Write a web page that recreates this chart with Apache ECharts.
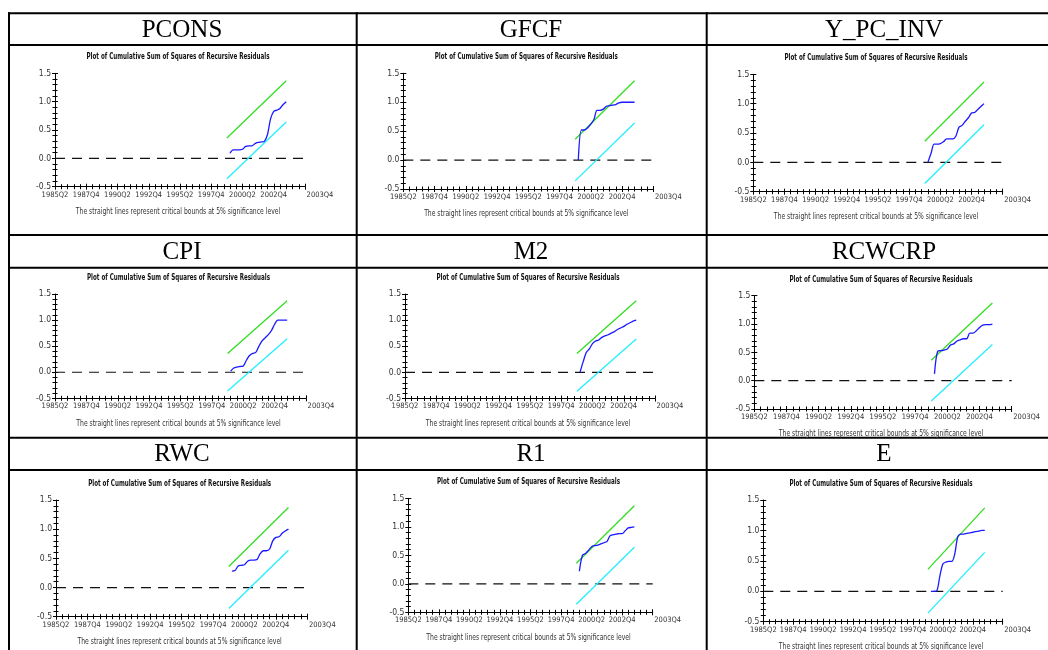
<!DOCTYPE html>
<html>
<head>
<meta charset="utf-8">
<title>CUSUMSQ plots</title>
<script src="https://cdn.jsdelivr.net/npm/echarts@6/dist/echarts.min.js"></script>
<style>
  html, body { margin: 0; padding: 0; background: #fff; }
  #chart { width: 1048px; height: 650px; }
</style>
</head>
<body>
<div id="chart"></div>
<script>
// x axis counts quarters from 1985Q2 (= 0); ticks every 10 quarters
const xTickLabels = ['1985Q2', '1987Q4', '1990Q2', '1992Q4', '1995Q2', '1997Q4', '2000Q2', '2002Q4', '2003Q4'];
const yTickLabels = ['-0.5', '0.0', '0.5', '1.0', '1.5'];

// recursive residual sample: 1999Q2 .. 2003Q4
const residualQuarters = [56, 57, 58, 59, 60, 61, 62, 63, 64, 65, 66, 67, 68, 69, 70, 71, 72, 73, 74];
// 5% critical bounds (straight lines)
const boundQuarters = [55, 74];
const upperBound = [0.36, 1.37];
const lowerBound = [-0.36, 0.64];
const zeroQuarters = [0, 80];
const zeroLine = [0, 0];

// cumulative sum of squares of recursive residuals, per variable
const pcons = [0.09, 0.15, 0.15, 0.15, 0.16, 0.21, 0.22, 0.22, 0.26, 0.28, 0.29, 0.30, 0.42, 0.70, 0.83, 0.85, 0.88, 0.95, 1.00];
const gfcf = [0.00, 0.52, 0.52, 0.56, 0.62, 0.70, 0.86, 0.86, 0.88, 0.93, 0.94, 0.95, 0.96, 0.99, 1.00, 1.00, 1.00, 1.00, 1.00];
const yPcInv = [0.00, 0.15, 0.31, 0.31, 0.32, 0.35, 0.40, 0.40, 0.40, 0.45, 0.60, 0.63, 0.70, 0.76, 0.84, 0.85, 0.90, 0.95, 1.00];
const cpi = [0.02, 0.08, 0.10, 0.11, 0.12, 0.23, 0.32, 0.36, 0.38, 0.50, 0.60, 0.66, 0.72, 0.80, 0.92, 1.00, 1.00, 1.00, 1.00];
const m2 = [0.00, 0.20, 0.38, 0.45, 0.55, 0.60, 0.62, 0.67, 0.70, 0.72, 0.75, 0.78, 0.82, 0.85, 0.88, 0.92, 0.95, 0.98, 1.00];
const rcwcrp = [0.12, 0.52, 0.53, 0.54, 0.56, 0.63, 0.65, 0.70, 0.72, 0.74, 0.74, 0.84, 0.84, 0.88, 0.94, 0.98, 0.99, 0.99, 1.00];
const rwc = [0.28, 0.29, 0.37, 0.38, 0.39, 0.45, 0.47, 0.47, 0.48, 0.58, 0.63, 0.63, 0.66, 0.80, 0.86, 0.87, 0.93, 0.97, 1.00];
const r1 = [0.22, 0.50, 0.53, 0.59, 0.65, 0.67, 0.68, 0.70, 0.72, 0.74, 0.84, 0.86, 0.87, 0.88, 0.88, 0.93, 0.98, 0.99, 1.00];
const e = [0.00, 0.00, 0.01, 0.25, 0.45, 0.48, 0.49, 0.49, 0.62, 0.90, 0.94, 0.94, 0.95, 0.96, 0.97, 0.98, 0.99, 1.00, 1.00];

const panelNames = ['PCONS', 'GFCF', 'Y_PC_INV', 'CPI', 'M2', 'RCWCRP', 'RWC', 'R1', 'E'];
const panelValues = [pcons, gfcf, yPcInv, cpi, m2, rcwcrp, rwc, r1, e];

const chartTitle = 'Plot of Cumulative Sum of Squares of Recursive Residuals';
const footNote = 'The straight lines represent critical bounds at 5% significance level';

// plot area of each panel: left, top, width, height (px)
const gridBoxes = [
  [55, 73.3, 250, 113.4], [403.3, 73.3, 250, 115.7], [753.3, 74.3, 249.4, 117.4],
  [55, 294, 251, 104.3], [405, 294, 250, 104.5], [754.3, 295.7, 257.4, 113.3],
  [56, 500, 251.3, 116.7], [408.3, 498.3, 244.4, 114], [763.3, 500, 239.4, 121.7]
];
// table lines
const colLines = [9, 356.7, 706.7];
const rowLines = [13.3, 45, 235, 267.7, 437.7, 470];
const headerCenters = [182, 531, 884];
const headerRows = [[13.3, 45], [235, 267.7], [437.7, 470]];

const COND = "'DejaVu Sans Condensed', 'Liberation Sans Narrow', 'Liberation Sans', sans-serif";
const SERIF = "'Liberation Serif', 'Times New Roman', serif";

const myChart = echarts.init(document.getElementById('chart'));

const grids = [];
const xAxes = [];
const yAxes = [];
const series = [];
const graphics = [];

// table borders
colLines.forEach(x => {
  graphics.push({type: 'line', shape: {x1: x, y1: rowLines[0] - 1, x2: x, y2: 650}, style: {stroke: '#000', lineWidth: 2}, silent: true});
});
rowLines.forEach(y => {
  graphics.push({type: 'line', shape: {x1: colLines[0] - 1, y1: y, x2: 1048, y2: y}, style: {stroke: '#000', lineWidth: 2}, silent: true});
});

panelNames.forEach((name, i) => {
  const [l, t, w, h] = gridBoxes[i];
  const row = Math.floor(i / 3);
  const col = i % 3;
  const cx = l + w / 2 - 2;

  // column header
  graphics.push({
    type: 'text',
    x: headerCenters[col],
    y: (headerRows[row][0] + headerRows[row][1]) / 2 + 1,
    style: {text: name, x: 0, y: 0, align: 'center', verticalAlign: 'middle', font: '25px ' + SERIF, fill: '#000'},
    silent: true
  });
  // panel title and note, squeezed horizontally like the original
  graphics.push({
    type: 'text',
    x: cx, y: t - 16.5, scaleX: 0.69,
    style: {text: chartTitle, x: 0, y: 0, align: 'center', verticalAlign: 'middle', font: 'bold 9px ' + COND, fill: '#111'},
    silent: true
  });
  graphics.push({
    type: 'text',
    x: cx, y: t + h + 25, scaleX: 0.75,
    style: {text: footNote, x: 0, y: 0, align: 'center', verticalAlign: 'middle', font: '9px ' + COND, fill: '#333'},
    silent: true
  });

  grids.push({left: l, top: t, width: w, height: h});

  const tickStyle = {color: '#000', width: 1};
  // x axis with labels and outward ticks
  xAxes.push({
    gridIndex: i, type: 'value', position: 'bottom', min: 0, max: 80, interval: 10,
    axisLine: {onZero: false, lineStyle: tickStyle},
    axisTick: {length: 3, lineStyle: tickStyle},
    minorTick: {show: true, splitNumber: 5, length: 2.5, lineStyle: tickStyle},
    splitLine: {show: false},
    axisLabel: {
      margin: 4, color: '#333', fontSize: 7.5, fontFamily: COND,
      formatter: v => {
        const k = Math.round(v / 10);
        return k === 8 ? '{last|' + xTickLabels[k] + '}' : xTickLabels[k];
      },
      rich: {last: {padding: [0, 0, 0, 30], fontSize: 7.5, fontFamily: COND, color: '#333'}}
    }
  });
  // inward ticks so the marks cross the axis
  xAxes.push({
    gridIndex: i, type: 'value', position: 'bottom', min: 0, max: 80, interval: 10,
    axisLine: {show: false, onZero: false},
    axisTick: {inside: true, length: 3, lineStyle: tickStyle},
    minorTick: {show: true, splitNumber: 5, length: 2.5, lineStyle: tickStyle},
    splitLine: {show: false},
    axisLabel: {show: false}
  });
  yAxes.push({
    gridIndex: i, type: 'value', position: 'left', min: -0.5, max: 1.5, interval: 0.5,
    axisLine: {show: true, onZero: false, lineStyle: tickStyle},
    axisTick: {show: true, length: 3, lineStyle: tickStyle},
    minorTick: {show: true, splitNumber: 5, length: 2.5, lineStyle: tickStyle},
    splitLine: {show: false},
    axisLabel: {
      margin: 4, color: '#333', fontSize: 8.5, fontFamily: COND,
      formatter: v => yTickLabels[Math.round((v + 0.5) / 0.5)]
    }
  });
  yAxes.push({
    gridIndex: i, type: 'value', position: 'left', min: -0.5, max: 1.5, interval: 0.5,
    axisLine: {show: false, onZero: false},
    axisTick: {show: true, inside: true, length: 3, lineStyle: tickStyle},
    minorTick: {show: true, splitNumber: 5, length: 2.5, lineStyle: tickStyle},
    splitLine: {show: false},
    axisLabel: {show: false}
  });

  const ax = {xAxisIndex: 2 * i, yAxisIndex: 2 * i};
  series.push(Object.assign({
    type: 'line', name: 'zero', symbol: 'none', silent: true,
    data: zeroQuarters.map((q, k) => [q, zeroLine[k]]),
    lineStyle: {color: '#111', width: 1.2, type: [10, 7]}
  }, ax));
  series.push(Object.assign({
    type: 'line', name: 'upper', symbol: 'none', silent: true,
    data: boundQuarters.map((q, k) => [q, upperBound[k]]),
    lineStyle: {color: '#33dd22', width: 1.3}
  }, ax));
  series.push(Object.assign({
    type: 'line', name: 'lower', symbol: 'none', silent: true,
    data: boundQuarters.map((q, k) => [q, lowerBound[k]]),
    lineStyle: {color: '#22eeff', width: 1.3}
  }, ax));
  series.push(Object.assign({
    type: 'line', name: name, symbol: 'none', silent: true, smooth: 0.3,
    data: residualQuarters.map((q, k) => [q, panelValues[i][k]]),
    lineStyle: {color: '#1a1aff', width: 1.3}
  }, ax));
});

myChart.setOption({
  animation: false,
  backgroundColor: '#fff',
  grid: grids,
  xAxis: xAxes,
  yAxis: yAxes,
  series: series,
  graphic: graphics
});
</script>
</body>
</html>
